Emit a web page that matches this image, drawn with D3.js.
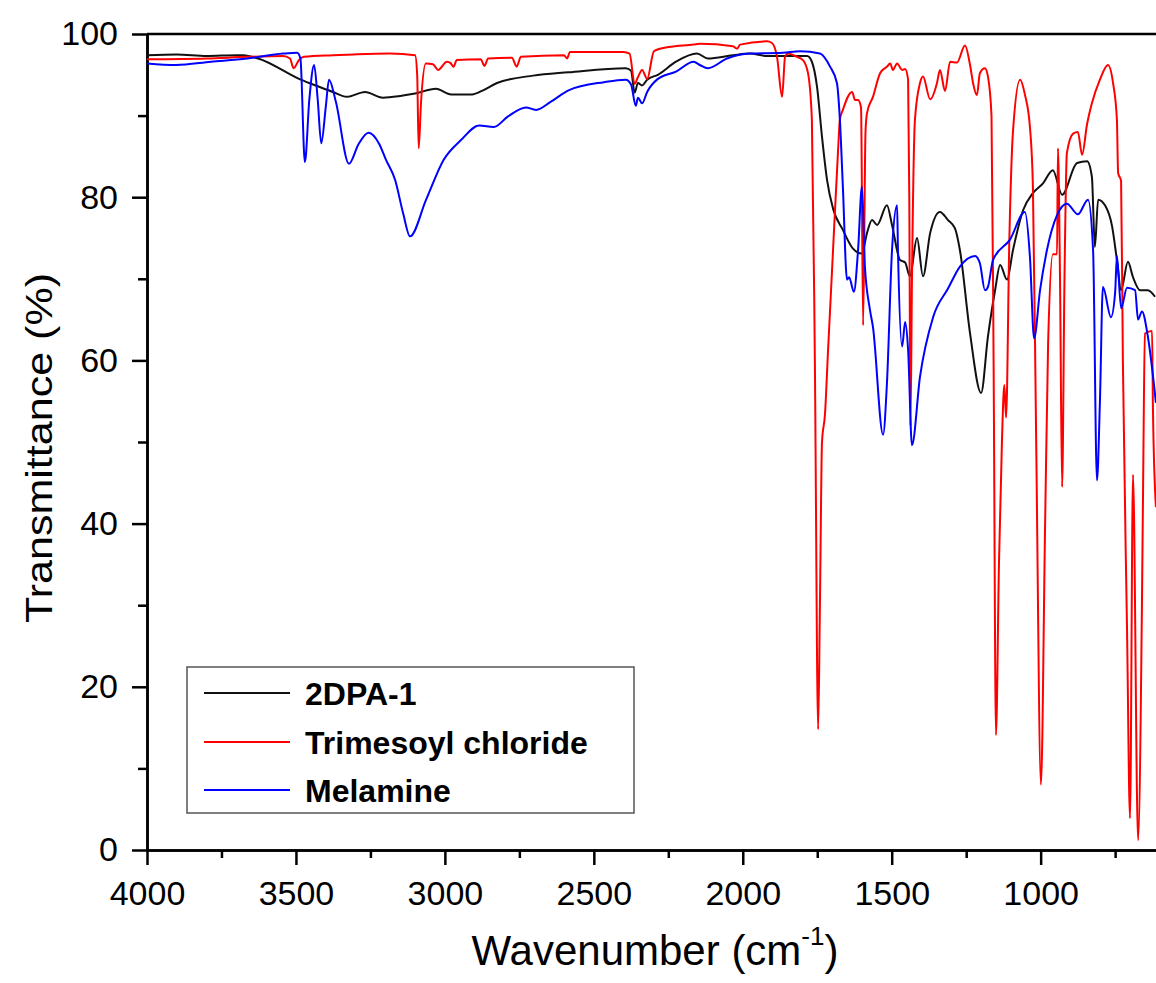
<!DOCTYPE html>
<meta charset="utf-8">
<title>FTIR spectra</title>
<style>

body {
  margin: 0;
  background: #fff;
}

svg {
  font-family: "Liberation Sans", Arial, sans-serif;
}

.axis path, .axis line {
  stroke: #000;
  stroke-width: 2.5px;
}

.axis text {
  font-size: 34px;
  fill: #000;
}

.curve {
  fill: none;
  stroke-width: 2px;
}

.legend text {
  font-size: 32px;
  font-weight: bold;
}

</style>

<svg width="1156" height="983"></svg>
<script src="https://d3js.org/d3.v7.min.js"></script>
<script>

// [wavenumber (cm-1), transmittance (%)]
var dpa1 = [
  [4000, 97.4], [3900, 97.5], [3800, 97.3], [3700, 97.4], [3676, 97.4], [3627, 97.0],
  [3484, 94.4], [3420, 93.5], [3376, 92.9], [3329, 92.3], [3268, 92.9], [3208, 92.2],
  [3150, 92.4], [3100, 92.7], [3030, 93.3], [2979, 92.6], [2909, 92.6], [2872, 93.1],
  [2825, 94.0], [2704, 94.9], [2585, 95.3], [2393, 95.8], [2375, 95.5], [2363, 92.8],
  [2352, 94.0], [2338, 93.7], [2321, 94.4], [2285, 95.0], [2224, 96.6], [2154, 97.6],
  [2117, 97.0], [2033, 97.4], [1976, 97.6], [1919, 97.3], [1784, 97.3], [1768, 96.6],
  [1751, 93.6], [1734, 87.4], [1717, 82.1], [1697, 78.6], [1664, 76.0], [1630, 73.7],
  [1600, 73.1], [1583, 75.6], [1566, 77.2], [1549, 76.6], [1516, 79.0], [1499, 76.6],
  [1472, 72.3], [1455, 72.0], [1439, 70.3], [1415, 75.0], [1395, 70.3], [1371, 75.6],
  [1338, 78.2], [1311, 77.2], [1288, 76.2], [1271, 73.5], [1237, 63.3], [1200, 56.0],
  [1177, 62.9], [1153, 68.6], [1136, 71.7], [1113, 69.9], [1093, 73.5], [1059, 78.4],
  [1026, 80.5], [992, 81.7], [959, 83.3], [928, 80.3], [878, 84.2], [844, 84.4],
  [828, 82.5], [818, 73.9], [807, 79.7], [784, 79.0], [760, 76.4], [744, 72.3],
  [730, 68.6], [707, 72.1], [690, 70.2], [666, 68.6], [640, 68.6], [616, 67.8]
];

var trimesoyl = [
  [4000, 96.9], [3800, 97.0], [3664, 97.2], [3543, 97.3], [3520, 97.0], [3508, 95.8],
  [3490, 96.8], [3473, 97.2], [3376, 97.4], [3305, 97.5], [3184, 97.6], [3100, 97.4],
  [3093, 95.0], [3088, 86.0], [3080, 91.7], [3064, 96.4], [3040, 96.3], [3023, 95.6],
  [2993, 96.6], [2980, 96.4], [2971, 96.0], [2960, 96.8], [2880, 96.9], [2867, 96.1],
  [2855, 97.0], [2775, 97.1], [2759, 96.0], [2745, 97.2], [2600, 97.4], [2590, 97.0],
  [2580, 97.8], [2400, 97.8], [2380, 97.6], [2363, 93.9], [2352, 94.7], [2338, 95.6],
  [2321, 94.5], [2298, 97.9], [2249, 98.4], [2165, 98.7], [2144, 98.8], [2033, 98.5],
  [2019, 98.2], [2009, 98.7], [1919, 99.1], [1902, 98.9], [1885, 97.2], [1868, 92.3],
  [1858, 97.2], [1848, 97.6], [1818, 97.2], [1798, 96.8], [1781, 95.2], [1768, 89.5],
  [1758, 60.0], [1747, 14.8], [1741, 30.0], [1734, 50.0], [1724, 53.4], [1714, 61.0],
  [1697, 73.5], [1680, 85.8], [1674, 89.5], [1664, 90.7], [1633, 92.9], [1623, 91.9],
  [1613, 91.9], [1603, 91.0], [1596, 64.3], [1588, 88.0], [1583, 90.3], [1563, 92.3],
  [1539, 95.2], [1516, 96.0], [1505, 96.4], [1496, 95.6], [1482, 96.4], [1465, 95.6],
  [1455, 95.7], [1445, 94.4], [1441, 80.0], [1437, 52.0], [1432, 70.0], [1422, 89.5],
  [1405, 94.0], [1395, 94.8], [1371, 92.0], [1348, 94.0], [1338, 95.6], [1321, 93.0],
  [1304, 96.6], [1281, 96.5], [1254, 98.6], [1237, 96.2], [1227, 94.0], [1214, 92.5],
  [1204, 95.2], [1187, 95.8], [1177, 94.8], [1165, 90.0], [1158, 60.0], [1150, 14.1],
  [1140, 35.0], [1130, 50.0], [1122, 57.0], [1116, 53.0], [1105, 75.0], [1093, 88.0],
  [1069, 94.4], [1053, 92.6], [1036, 88.6], [1026, 81.3], [1015, 50.0], [999, 8.0],
  [985, 40.0], [975, 62.0], [959, 73.0], [945, 73.0], [942, 86.0], [935, 70.0],
  [928, 44.5], [920, 70.0], [912, 85.4], [891, 87.8], [875, 88.0], [861, 85.2],
  [844, 89.0], [828, 91.5], [801, 94.4], [774, 96.2], [757, 94.0], [744, 89.5],
  [740, 83.0], [730, 82.0], [724, 60.0], [710, 27.0], [700, 3.9], [690, 46.0],
  [673, 1.2], [660, 30.0], [656, 45.0], [650, 63.3], [626, 63.6], [623, 54.0],
  [613, 42.0]
];

var melamine = [
  [4000, 96.4], [3903, 96.2], [3785, 96.6], [3664, 97.0], [3543, 97.6], [3496, 97.7],
  [3485, 97.0], [3470, 84.3], [3455, 92.0], [3439, 96.2], [3427, 92.0], [3415, 86.6],
  [3400, 91.0], [3389, 94.4], [3366, 91.7], [3322, 84.1], [3290, 86.5], [3256, 87.9],
  [3220, 86.5], [3198, 84.6], [3167, 82.1], [3140, 78.0], [3117, 75.2], [3063, 79.7],
  [3004, 84.6], [2946, 87.0], [2885, 88.8], [2836, 88.6], [2788, 89.9], [2728, 91.0],
  [2694, 90.7], [2644, 91.7], [2585, 93.1], [2466, 94.1], [2393, 94.4], [2375, 93.8],
  [2359, 91.2], [2352, 92.2], [2338, 91.5], [2321, 92.9], [2285, 94.5], [2224, 95.4],
  [2165, 96.6], [2144, 96.2], [2117, 95.8], [2053, 97.0], [1976, 97.6], [1865, 97.7],
  [1808, 97.9], [1741, 97.6], [1707, 96.0], [1684, 94.0], [1674, 89.5], [1664, 81.3],
  [1650, 69.9], [1643, 70.2], [1627, 68.4], [1613, 73.5], [1600, 81.3], [1590, 71.5],
  [1573, 66.2], [1563, 64.1], [1529, 50.9], [1516, 57.2], [1499, 73.5], [1482, 79.0],
  [1479, 73.5], [1465, 61.7], [1455, 64.7], [1445, 61.3], [1432, 49.6], [1405, 58.0],
  [1361, 65.3], [1311, 68.8], [1271, 71.5], [1220, 72.8], [1204, 71.9], [1187, 68.6],
  [1177, 69.0], [1160, 72.3], [1103, 74.8], [1053, 78.2], [1036, 72.7], [1022, 62.7],
  [1002, 68.6], [979, 73.5], [945, 77.8], [912, 79.2], [875, 77.9], [841, 79.7],
  [824, 73.5], [811, 45.3], [801, 55.0], [791, 69.0], [764, 65.3], [750, 68.3],
  [744, 72.8], [730, 66.4], [710, 68.9], [683, 68.6], [673, 65.0], [660, 66.0],
  [640, 62.9], [613, 54.8]
];

var seriesNames = ["2DPA-1", "Trimesoyl chloride", "Melamine"];
var seriesColors = ["#111111", "#ff0000", "#0000ff"];
var xMajor = [4000, 3500, 3000, 2500, 2000, 1500, 1000];
var xMinor = [3750, 3250, 2750, 2250, 1750, 1250, 750];
var yMajor = [0, 20, 40, 60, 80, 100];
var yMinor = [10, 30, 50, 70, 90];

var svg = d3.select("svg");

var plotLeft = 147, plotTop = 34, plotBottom = 850;

var x = d3.scaleLinear()
  .domain([4000, 600])
  .range([plotLeft, plotLeft + 3400 / 3.357]);

var y = d3.scaleLinear()
  .domain([0, 100])
  .range([plotBottom, plotTop]);

svg.append("defs").append("clipPath")
    .attr("id", "plot")
  .append("rect")
    .attr("x", plotLeft)
    .attr("y", plotTop)
    .attr("width", 1200)
    .attr("height", plotBottom - plotTop);

// minor ticks first, the major axis draws the lines over them
svg.append("g")
    .attr("class", "axis")
    .attr("transform", "translate(0," + plotBottom + ")")
    .call(d3.axisBottom(x).tickValues(xMinor).tickSize(8).tickSizeOuter(0).tickFormat(""));

svg.append("g")
    .attr("class", "axis")
    .attr("transform", "translate(0," + plotBottom + ")")
    .call(d3.axisBottom(x).tickValues(xMajor).tickSize(15).tickSizeOuter(0)
      .tickPadding(16).tickFormat(d3.format("d")));

svg.append("g")
    .attr("class", "axis")
    .attr("transform", "translate(" + plotLeft + ",0)")
    .call(d3.axisLeft(y).tickValues(yMinor).tickSize(9).tickSizeOuter(0).tickFormat(""));

svg.append("g")
    .attr("class", "axis")
    .attr("transform", "translate(" + plotLeft + ",0)")
    .call(d3.axisLeft(y).tickValues(yMajor).tickSize(15).tickSizeOuter(0)
      .tickPadding(14).tickFormat(d3.format("d")));

// top frame line
svg.append("line")
    .attr("x1", plotLeft)
    .attr("x2", 1160)
    .attr("y1", y(100))
    .attr("y2", y(100))
    .style("stroke", "#000")
    .style("stroke-width", "2.5px");

var line = d3.line()
  .x(function(d) { return x(d[0]); })
  .y(function(d) { return y(d[1]); })
  .curve(d3.curveMonotoneX);

svg.append("g")
    .attr("clip-path", "url(#plot)")
  .selectAll("path")
  .data([dpa1, trimesoyl, melamine])
  .enter()
  .append("path")
    .attr("class", "curve")
    .attr("d", line)
    .style("stroke", function(d, i) { return seriesColors[i]; });

// axis titles
svg.append("text")
    .attr("transform", "translate(52,448) rotate(-90)")
    .attr("text-anchor", "middle")
    .attr("textLength", 350)
    .attr("lengthAdjust", "spacingAndGlyphs")
    .style("font-size", "37px")
    .text("Transmittance (%)");

var xt = svg.append("text")
    .attr("x", 655)
    .attr("y", 965)
    .attr("text-anchor", "middle")
    .style("font-size", "42px");
xt.append("tspan").text("Wavenumber (cm");
xt.append("tspan").attr("dy", -20).style("font-size", "26px").text("-1");
xt.append("tspan").attr("dy", 20).text(")");

// legend
var legend = svg.append("g").attr("class", "legend");

legend.append("rect")
    .attr("x", 187)
    .attr("y", 667)
    .attr("width", 447)
    .attr("height", 146)
    .style("fill", "#fff")
    .style("stroke", "#555")
    .style("stroke-width", "1.5px");

var rowY = [693, 742, 790];

legend.selectAll("line")
  .data(seriesNames)
  .enter()
  .append("line")
    .attr("x1", 204)
    .attr("x2", 290)
    .attr("y1", function(d, i) { return rowY[i]; })
    .attr("y2", function(d, i) { return rowY[i]; })
    .style("stroke", function(d, i) { return seriesColors[i]; })
    .style("stroke-width", "2px");

legend.selectAll("text")
  .data(seriesNames)
  .enter()
  .append("text")
    .attr("x", 305)
    .attr("y", function(d, i) { return rowY[i] + 12; })
    .text(function(d) { return d; });

</script>
